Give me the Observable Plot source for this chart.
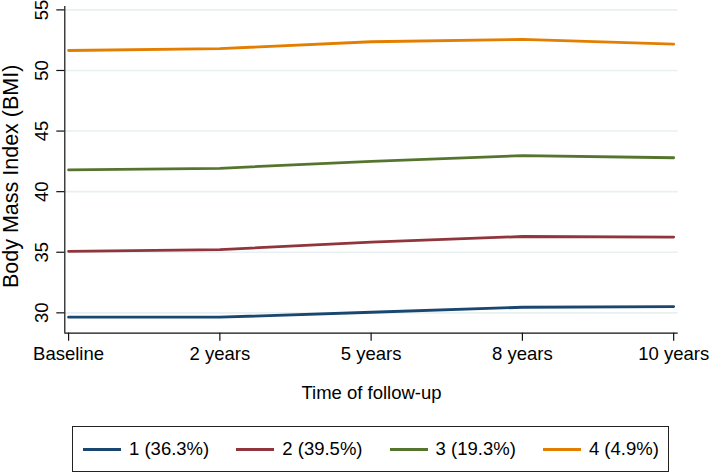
<!DOCTYPE html>
<html>
<head>
<meta charset="utf-8">
<script src="https://cdn.jsdelivr.net/npm/d3@7"></script>
<script src="https://cdn.jsdelivr.net/npm/@observablehq/plot@0.6"></script>
<style>
  html, body { margin: 0; padding: 0; background: #fff; }
  body { font-family: "Liberation Sans", Arial, sans-serif; width: 709px; }
  #legend {
    margin-left: 72px; margin-top: 14px; width: 597px; height: 46px;
    border: 1px solid #222; box-sizing: border-box;
    display: flex; align-items: center; padding-left: 10px;
  }
  .item { width: 153.3px; flex: none; display: flex; align-items: center; font-size: 18.5px; color: #000; white-space: nowrap; }
  .swatch { width: 38px; height: 0; border-top: 3px solid; margin-right: 8px; }
</style>
</head>
<body>
<div id="chart"></div>
<script>
const timeLabels = ["Baseline", "2 years", "5 years", "8 years", "10 years"];
const seriesNames = ["1 (36.3%)", "2 (39.5%)", "3 (19.3%)", "4 (4.9%)"];
const seriesColors = ["#1a476f", "#90353b", "#55752f", "#e37e00"];
const group1 = [29.64, 29.64, 30.05, 30.46, 30.52];
const group2 = [35.08, 35.22, 35.83, 36.30, 36.25];
const group3 = [41.79, 41.93, 42.50, 42.97, 42.80];
const group4 = [51.65, 51.80, 52.37, 52.56, 52.17];
const yTicks = [30, 35, 40, 45, 50, 55];

const allSeries = [group1, group2, group3, group4];
const rows = [];
allSeries.forEach((vals, s) => vals.forEach((v, i) => rows.push({series: seriesNames[s], i, value: v})));
const idx = timeLabels.map((_, i) => i);
const xDomain = [-0.025, timeLabels.length - 1 + 0.03];
const yDomain = [28.32, 55.28];
const fs = 18.5;

const chart = Plot.plot({
  width: 709,
  height: 412,
  marginLeft: 64.3,
  marginRight: 31.3,
  marginTop: 6,
  marginBottom: 79.3,
  style: {fontFamily: "'Liberation Sans', Arial, sans-serif", fontSize: fs + "px", color: "#000", background: "#fff"},
  x: {type: "linear", domain: xDomain, axis: null},
  y: {domain: yDomain, axis: null},
  color: {domain: seriesNames, range: seriesColors},
  marks: [
    Plot.gridY(yTicks, {stroke: "#e8f0f2", strokeOpacity: 1, strokeWidth: 1.6}),
    Plot.ruleY([yDomain[0]], {stroke: "#111", strokeWidth: 1.2}),
    Plot.ruleX([xDomain[0]], {stroke: "#111", strokeWidth: 1.2}),
    Plot.axisY({ticks: yTicks, tickSize: 8, tickFormat: () => "", label: null, stroke: "#111", strokeWidth: 1.2}),
    Plot.axisX({ticks: idx, tickSize: 8, tickFormat: () => "", label: null, stroke: "#111", strokeWidth: 1.2}),
    Plot.text(yTicks, {y: d => d, text: d => String(d), frameAnchor: "left", rotate: -90, dx: -17, lineAnchor: "bottom", textAnchor: "middle", fontSize: fs, fill: "#000"}),
    Plot.text(idx, {x: d => d, text: d => timeLabels[d], frameAnchor: "bottom", dy: 20.5, lineAnchor: "middle", textAnchor: "middle", fontSize: fs, fill: "#000"}),
    Plot.text(["Time of follow-up"], {frameAnchor: "bottom", dy: 60, lineAnchor: "middle", textAnchor: "middle", fontSize: fs, fill: "#000"}),
    Plot.text(["Body Mass Index (BMI)"], {frameAnchor: "left", rotate: -90, dx: -62.5, dy: 6.5, lineAnchor: "top", textAnchor: "middle", fontSize: 21.5, fill: "#000"}),
    Plot.line(rows, {x: "i", y: "value", z: "series", stroke: "series", strokeWidth: 2.8})
  ]
});
document.getElementById("chart").appendChild(chart);

const legend = document.createElement("div");
legend.id = "legend";
seriesNames.forEach((name, s) => {
  const item = document.createElement("div");
  item.className = "item";
  const sw = document.createElement("span");
  sw.className = "swatch";
  sw.style.borderTopColor = seriesColors[s];
  const t = document.createElement("span");
  t.textContent = name;
  item.appendChild(sw);
  item.appendChild(t);
  legend.appendChild(item);
});
document.body.appendChild(legend);
</script>
</body>
</html>
